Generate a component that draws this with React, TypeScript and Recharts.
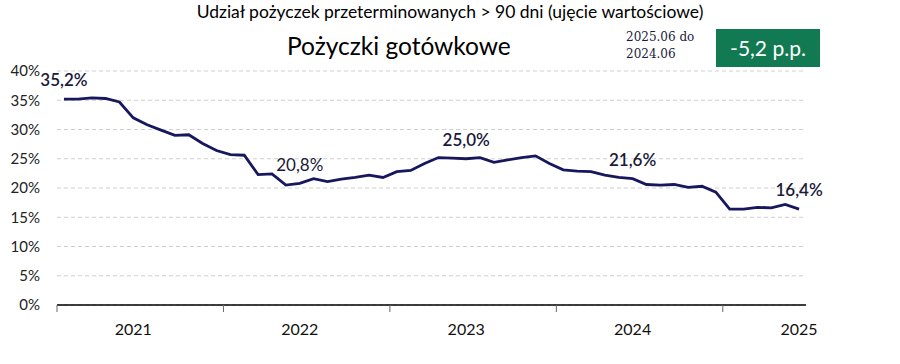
import React from "react";
import {
  LineChart,
  Line,
  XAxis,
  YAxis,
  CartesianGrid,
} from "recharts";

// udział pożyczek > 90 dni, miesięcznie 2021.01 - 2025.06
const values = [
  35.2, 35.2, 35.4, 35.3, 34.7, 32.0, 30.8, 29.9, 29.0, 29.1, 27.6, 26.4,
  25.7, 25.6, 22.3, 22.4, 20.5, 20.8, 21.6, 21.1, 21.5, 21.8, 22.2, 21.8,
  22.8, 23.0, 24.2, 25.2, 25.1, 25.0, 25.2, 24.4, 24.8, 25.2, 25.5, 24.2,
  23.1, 22.9, 22.8, 22.2, 21.8, 21.6, 20.6, 20.5, 20.6, 20.1, 20.3, 19.3,
  16.4, 16.4, 16.7, 16.6, 17.2, 16.4,
];
const years = ["2021", "2022", "2023", "2024", "2025"];
const labelIdx = [0, 17, 29, 41, 53];
const yTicks = [0, 5, 10, 15, 20, 25, 30, 35, 40];

const data = values.map((v, i) => ({ t: i + 0.5, v }));
const nMonths = values.length;
// granice lat + czerwiec każdego roku (pod etykiety)
const xTicks = years.flatMap((_, k) => {
  const out = [k * 12, k * 12 + 5.5];
  return out.filter((t) => t <= nMonths);
});

const FONT = "Lato, 'Open Sans', sans-serif";

const YearTick = (props: any) => {
  const { x, y, payload } = props;
  const t = payload.value as number;
  if (Number.isInteger(t)) {
    return <line x1={x} x2={x} y1={y} y2={y + 7} stroke="#666" strokeWidth={1} />;
  }
  const year = years[Math.floor(t / 12)];
  return (
    <text
      x={x}
      y={y + 30}
      textAnchor="middle"
      fontFamily={FONT}
      fontSize={16}
      fill="#111"
    >
      {year}
    </text>
  );
};

const PointLabel = (props: any) => {
  const { x, y, index, value } = props;
  if (!labelIdx.includes(index)) return <g />;
  return (
    <text
      x={x}
      y={y - 17}
      textAnchor="middle"
      dominantBaseline="middle"
      fontFamily={FONT}
      fontSize={17}
      fontWeight={index === 17 ? 400 : 600}
      fill="#1a1a3a"
    >
      {value.toFixed(1).replace(".", ",")}%
    </text>
  );
};

export default function App() {
  return (
    <div style={{ position: "absolute", left: 0, top: 0, width: 900, height: 364, background: "#fff" }}>
      <LineChart
        width={900}
        height={364}
        data={data}
        margin={{ top: 71, right: 94, bottom: 29, left: 7 }}
      >
        <CartesianGrid
          horizontal
          vertical={false}
          stroke="#d0d0d0"
          strokeDasharray="4 3"
        />
        <XAxis
          type="number"
          dataKey="t"
          domain={[0, nMonths]}
          ticks={xTicks}
          interval={0}
          tick={<YearTick />}
          tickLine={false}
          tickSize={0}
          tickMargin={0}
          height={30}
          axisLine={{ stroke: "#000", strokeWidth: 1.5 }}
        />
        <YAxis
          domain={[0, 40]}
          ticks={yTicks}
          interval={0}
          width={50}
          axisLine={false}
          tickLine={false}
          tickSize={0}
          tickMargin={17}
          tickFormatter={(v) => `${v}%`}
          tick={{ fontFamily: FONT, fontSize: 15, fill: "#222" }}
        />
        <Line
          dataKey="v"
          type="linear"
          stroke="#17175e"
          strokeWidth={2.8}
          dot={false}
          label={<PointLabel />}
          isAnimationActive={false}
        />
      </LineChart>
      <div
        style={{
          position: "absolute",
          left: 0,
          width: 900,
          top: 1,
          textAlign: "center",
          fontFamily: FONT,
          fontSize: 17.5,
          lineHeight: "21px",
          color: "#000",
        }}
      >
        Udział pożyczek przeterminowanych &gt; 90 dni (ujęcie wartościowe)
      </div>
      <div
        style={{
          position: "absolute",
          left: 287,
          top: 31,
          fontFamily: FONT,
          fontSize: 24.5,
          lineHeight: "30px",
          color: "#000",
          whiteSpace: "nowrap",
        }}
      >
        Pożyczki gotówkowe
      </div>
      <div
        style={{
          position: "absolute",
          left: 626,
          top: 29,
          fontFamily: "'DejaVu Serif', serif",
          fontSize: 12,
          lineHeight: "17px",
          color: "#1a1a40",
          whiteSpace: "nowrap",
        }}
      >
        2025.06 do
        <br />
        2024.06
      </div>
      <div
        style={{
          position: "absolute",
          left: 716,
          top: 29,
          width: 104,
          height: 38,
          background: "#117a52",
          color: "#fff",
          fontFamily: FONT,
          fontSize: 21,
          lineHeight: "38px",
          textAlign: "center",
        }}
      >
        -5,2 p.p.
      </div>
    </div>
  );
}
